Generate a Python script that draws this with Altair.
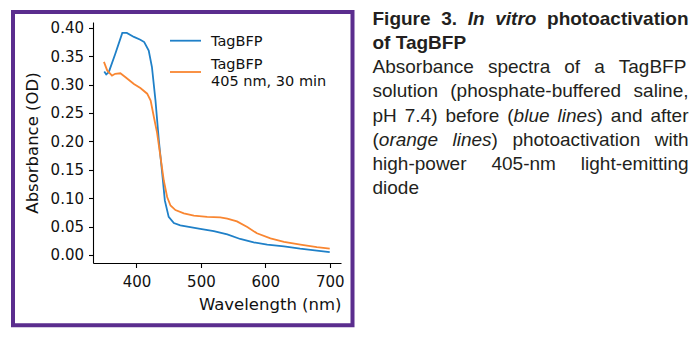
import altair as alt
import pandas as pd

# ---------------- data ----------------
series_names = ["TagBFP", "TagBFP 405 nm, 30 min"]
series_colors = ["#1f80c8", "#f98631"]

blue_wl = [350, 353, 357, 367, 378, 385, 396, 406, 412, 419, 424, 429.5, 434.7, 440, 444,
           450, 458, 468, 499, 520, 541, 561, 582, 603, 629, 654, 680, 700]
blue_od = [0.323, 0.318, 0.322, 0.354, 0.391, 0.391, 0.384, 0.379, 0.375, 0.360, 0.331, 0.272,
           0.202, 0.143, 0.096, 0.067, 0.056, 0.052, 0.046, 0.042, 0.036, 0.028, 0.022, 0.018,
           0.015, 0.011, 0.0076, 0.005]
orange_wl = [349.5, 354.5, 362, 367, 375, 383, 396, 406, 416.6, 422, 427, 432, 437, 442.4,
             447.6, 452.8, 460.5, 473.5, 489, 509.7, 530, 541, 556, 572, 587, 608, 629, 654.5,
             680, 700]
orange_od = [0.340, 0.325, 0.316, 0.319, 0.320, 0.313, 0.301, 0.294, 0.284, 0.272, 0.243,
             0.215, 0.175, 0.131, 0.102, 0.087, 0.079, 0.073, 0.069, 0.067, 0.066, 0.064, 0.059,
             0.049, 0.038, 0.029, 0.023, 0.018, 0.0135, 0.011]

x_ticks = [400, 500, 600, 700]
y_ticks = [0.0, 0.05, 0.10, 0.15, 0.20, 0.25, 0.30, 0.35, 0.40]
x_title = "Wavelength (nm)"
y_title = "Absorbance (OD)"
legend_lines = [["TagBFP"], ["TagBFP", "405 nm, 30 min"]]

# caption: lines of words; each word is a list of (text, style) segments
caption_lines = [
    ([[("Figure", "b")], [("3.", "b")], [("In", "bi")], [("vitro", "bi")], [("photoactivation", "b")]], True),
    ([[("of", "b")], [("TagBFP", "b")]], False),
    ([[("Absorbance", "r")], [("spectra", "r")], [("of", "r")], [("a", "r")], [("TagBFP", "r")]], True),
    ([[("solution", "r")], [("(phosphate-buffered", "r")], [("saline,", "r")]], True),
    ([[("pH", "r")], [("7.4)", "r")], [("before", "r")], [("(", "r"), ("blue", "i")],
      [("lines", "i"), (")", "r")], [("and", "r")], [("after", "r")]], True),
    ([[("(", "r"), ("orange", "i")], [("lines", "i"), (")", "r")], [("photoactivation", "r")],
      [("with", "r")]], True),
    ([[("high-power", "r")], [("405-nm", "r")], [("light-emitting", "r")]], True),
    ([[("diode", "r")]], False),
]

# ---------------- layout ----------------
PL, PT = 93, 22          # plot origin in page pixels
W, H = 248, 241
CAP_FS = 19
CAP_LEFT, CAP_RIGHT = 372.5, 688.5
CAP_BASE0, CAP_STEP = 25, 24.15

REG = {' ': 278, '(': 333, ')': 333, ',': 278, '-': 333, '.': 278, 'A': 667, 'B': 667, 'F': 611,
       'P': 667, 'T': 611, 'H': 722, 'a': 556, 'b': 556, 'c': 500, 'd': 556, 'e': 556, 'f': 278,
       'g': 556, 'h': 556, 'i': 222, 'l': 222, 'm': 833, 'n': 556, 'o': 556, 'p': 556, 'r': 333,
       's': 500, 't': 278, 'u': 556, 'v': 500, 'w': 722}
for d in "0123456789":
    REG[d] = 556
BOLD = {' ': 278, '.': 278, '3': 556, 'F': 611, 'T': 611, 'B': 722, 'P': 667, 'I': 278, 'a': 556,
        'c': 556, 'e': 556, 'f': 333, 'g': 611, 'h': 611, 'i': 278, 'n': 611, 'o': 611, 'p': 611,
        'r': 389, 't': 333, 'u': 611, 'v': 556}


def seg_w(text, style):
    tab = BOLD if style.startswith("b") else REG
    return sum(tab.get(c, 556) for c in text) * CAP_FS / 1000.0


tokens = []
for i, (words, justified) in enumerate(caption_lines):
    base = CAP_BASE0 + CAP_STEP * i
    widths = [sum(seg_w(t, s) for t, s in w) for w in words]
    if justified and len(words) > 1:
        gap = (CAP_RIGHT - CAP_LEFT - sum(widths)) / (len(words) - 1)
    else:
        gap = 278 * CAP_FS / 1000.0
    x = CAP_LEFT
    for w, ww in zip(words, widths):
        xx = x
        for t, s in w:
            tokens.append({"text": t, "px": xx - PL, "py": base - PT, "style": s})
            xx += seg_w(t, s)
        x += ww + gap
tok = pd.DataFrame(tokens)

# ---------------- chart ----------------
df = pd.concat([
    pd.DataFrame({"wl": blue_wl, "od": blue_od, "series": series_names[0]}),
    pd.DataFrame({"wl": orange_wl, "od": orange_od, "series": series_names[1]}),
])

color_scale = alt.Scale(domain=series_names, range=series_colors)

lines = alt.Chart(df).mark_line(strokeWidth=1.8).encode(
    x=alt.X("wl:Q", scale=alt.Scale(domain=[332.5, 717.5], nice=False, zero=False),
            axis=alt.Axis(values=x_ticks, title=x_title, format="d", grid=False,
                          domainColor="black", domainWidth=1.1, tickColor="black", tickWidth=1.1,
                          tickSize=4.5, labelFont="DejaVu Sans", labelFontSize=15,
                          labelColor="#111", labelPadding=7, labelFlush=False,
                          titleFont="DejaVu Sans", titleFontSize=16.5, titleFontWeight="normal",
                          titleColor="#111", titleAlign="right", titleBaseline="alphabetic",
                          titleX=W, titleY=46)),
    y=alt.Y("od:Q", scale=alt.Scale(domain=[-0.0143, 0.4103], nice=False, zero=False),
            axis=alt.Axis(values=y_ticks, title=y_title, format=".2f", grid=False,
                          domainColor="black", domainWidth=1.1, tickColor="black", tickWidth=1.1,
                          tickSize=4.5, labelFont="DejaVu Sans", labelFontSize=15,
                          labelColor="#111", labelPadding=5,
                          titleFont="DejaVu Sans", titleFontSize=16.5, titleFontWeight="normal",
                          titleColor="#111", titleAngle=270, titleAlign="center",
                          titleBaseline="alphabetic", titleX=37 - PL, titleY=H / 2)),
    color=alt.Color("series:N", scale=color_scale, legend=None),
)

layers = [lines]

# legend (manual)
leg_y = [40.7, 72.0]
leg_text_base = [[45.7], [69.0, 85.7]]
for k, name in enumerate(series_names):
    layers.append(
        alt.Chart(pd.DataFrame({"series": [name]})).mark_rule(strokeWidth=1.8).encode(
            x=alt.value(170 - PL), x2=alt.value(201 - PL), y=alt.value(leg_y[k] - PT),
            color=alt.Color("series:N", scale=color_scale, legend=None))
    )
    for txt, b in zip(legend_lines[k], leg_text_base[k]):
        layers.append(
            alt.Chart(pd.DataFrame({"t": [txt]})).mark_text(
                align="left", baseline="alphabetic", font="DejaVu Sans", fontSize=14.5,
                color="#111").encode(
                x=alt.value(211 - PL), y=alt.value(b - PT), text="t:N")
        )

# caption text
style_props = {
    "r": dict(fontWeight="normal", fontStyle="normal"),
    "i": dict(fontWeight="normal", fontStyle="italic"),
    "b": dict(fontWeight="bold", fontStyle="normal"),
    "bi": dict(fontWeight="bold", fontStyle="italic"),
}
for s, props in style_props.items():
    sub = tok[tok["style"] == s]
    if len(sub) == 0:
        continue
    layers.append(
        alt.Chart(sub).mark_text(align="left", baseline="alphabetic", font="Liberation Sans",
                                 fontSize=CAP_FS, color="#231f20", **props).encode(
            x=alt.X("px:Q", scale=None, axis=None),
            y=alt.Y("py:Q", scale=None, axis=None),
            text="text:N")
    )

# purple frame around the plot
layers.append(
    alt.Chart(pd.DataFrame({"a": [0]})).mark_rect(filled=False, stroke="#5b2d8e", strokeWidth=4).encode(
        x=alt.value(13 - PL), x2=alt.value(352.5 - PL), y=alt.value(12 - PT), y2=alt.value(325.3 - PT))
)

chart = alt.layer(*layers).resolve_scale(x="independent", y="independent").properties(
    width=W, height=H,
    autosize=alt.AutoSizeParams(type="none"),
    padding={"left": PL, "top": PT, "right": 699 - PL - W, "bottom": 338 - PT - H},
    background="white",
).configure_view(stroke=None)

chart.save("out.html", embed_options={"renderer": "svg", "actions": False})
